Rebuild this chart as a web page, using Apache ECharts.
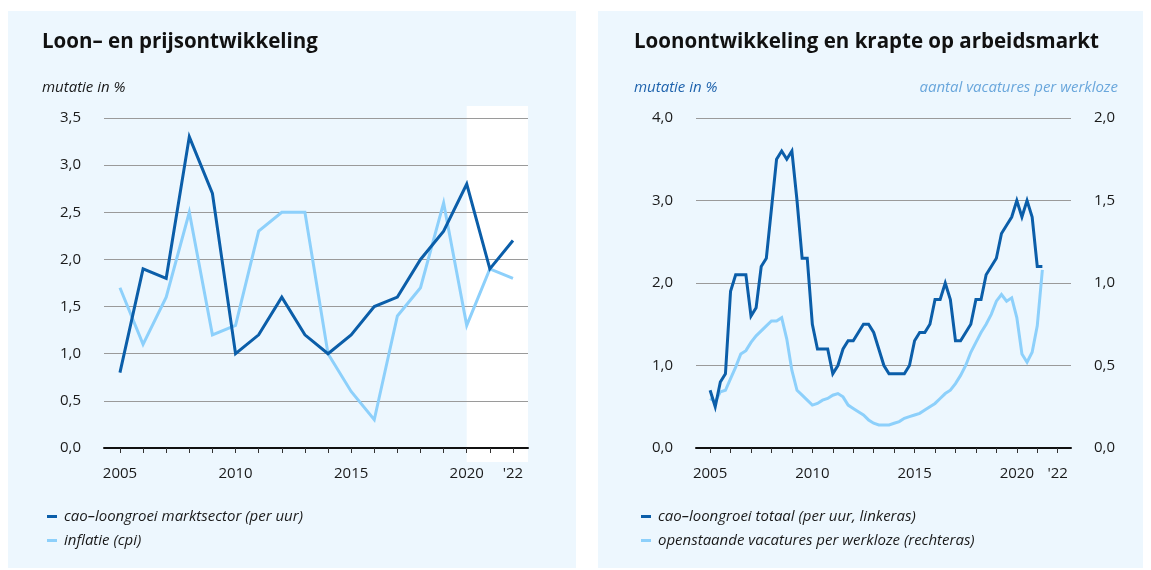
<!DOCTYPE html>
<html>
<head>
<meta charset="utf-8">
<script src="https://cdn.jsdelivr.net/npm/echarts@6.0.0/dist/echarts.min.js"></script>
<style>
  html, body { margin: 0; padding: 0; background: #ffffff; }
  #chart { width: 1151px; height: 570px; }
</style>
</head>
<body>
<div id="chart"></div>
<script>
// ---- Linker grafiek: jaarcijfers ----
const jaren = [2005, 2006, 2007, 2008, 2009, 2010, 2011, 2012, 2013, 2014, 2015, 2016, 2017, 2018, 2019, 2020, 2021, 2022];
const caoMarktsector = [0.8, 1.9, 1.8, 3.3, 2.7, 1.0, 1.2, 1.6, 1.2, 1.0, 1.2, 1.5, 1.6, 2.0, 2.3, 2.8, 1.9, 2.2];
const inflatie = [1.7, 1.1, 1.6, 2.5, 1.2, 1.3, 2.3, 2.5, 2.5, 1.0, 0.6, 0.3, 1.4, 1.7, 2.6, 1.3, 1.9, 1.8];

// Jaarlabels onder de x-as
const jaarLabels = [2005, 2010, 2015, 2020, 2022];
const ramingVanaf = 2020;

// ---- Rechter grafiek: kwartaalcijfers vanaf 2005 K1 ----
const startJaar = 2005;
const caoTotaal = [
  0.7, 0.5, 0.8, 0.9,
  1.9, 2.1, 2.1, 2.1,
  1.6, 1.7, 2.2, 2.3,
  2.9, 3.5, 3.6, 3.5,
  3.6, 3.0, 2.3, 2.3,
  1.5, 1.2, 1.2, 1.2,
  0.9, 1.0, 1.2, 1.3,
  1.3, 1.4, 1.5, 1.5,
  1.4, 1.2, 1.0, 0.9,
  0.9, 0.9, 0.9, 1.0,
  1.3, 1.4, 1.4, 1.5,
  1.8, 1.8, 2.0, 1.8,
  1.3, 1.3, 1.4, 1.5,
  1.8, 1.8, 2.1, 2.2,
  2.3, 2.6, 2.7, 2.8,
  3.0, 2.8, 3.0, 2.8,
  2.2, 2.2
];
const vacaturesPerWerkloze = [
  0.30, 0.28, 0.34, 0.35,
  0.42, 0.49, 0.57, 0.59,
  0.64, 0.68, 0.71, 0.74,
  0.77, 0.77, 0.79, 0.66,
  0.47, 0.35, 0.32, 0.29,
  0.26, 0.27, 0.29, 0.30,
  0.32, 0.33, 0.31, 0.26,
  0.24, 0.22, 0.20, 0.17,
  0.15, 0.14, 0.14, 0.14,
  0.15, 0.16, 0.18, 0.19,
  0.20, 0.21, 0.23, 0.25,
  0.27, 0.30, 0.33, 0.35,
  0.39, 0.44, 0.50, 0.58,
  0.64, 0.70, 0.75, 0.81,
  0.89, 0.93, 0.89, 0.91,
  0.79, 0.57, 0.52, 0.58,
  0.74, 1.08
];

// Tekst
const titelLinks = 'Loon– en prijsontwikkeling';
const titelRechts = 'Loonontwikkeling en krapte op arbeidsmarkt';
const eenheid = 'mutatie in %';
const eenheidRechts = 'aantal vacatures per werkloze';
const naamCaoMarkt = 'cao–loongroei marktsector (per uur)';
const naamInflatie = 'inflatie (cpi)';
const naamCaoTotaal = 'cao–loongroei totaal (per uur, linkeras)';
const naamVacatures = 'openstaande vacatures per werkloze (rechteras)';

// ---- Opmaak ----
const FONT = 'Open Sans';
const DONKER = '#0b5ea9';
const LICHT = '#8dd0fb';
const PANEEL = '#edf7fe';
const TEKST = '#1a1a1a';
const GRID = '#9a9a9a';

const kwartaal = (reeks) => reeks.map((v, i) => [startJaar + i / 4, v]);
const jaarReeks = (reeks) => reeks.map((v, i) => [jaren[i], v]);
const komma = (v) => v.toFixed(1).replace('.', ',');
const jaarTekst = (v) => (v === 2022 ? "'22" : String(v));

function xAs(gridIndex) {
  return {
    type: 'value', gridIndex,
    min: 2004.31, max: 2022.65,
    axisLine: { show: true, onZero: false, lineStyle: { color: '#111', width: 2 } },
    axisTick: { show: true, length: 5, lineStyle: { color: '#333', width: 1 }, customValues: jaren },
    axisLabel: {
      customValues: jaarLabels, formatter: jaarTekst, margin: 18,
      fontFamily: FONT, fontSize: 15, color: TEKST
    },
    splitLine: { show: false }
  };
}

function yAs(gridIndex, max, interval, position) {
  return {
    type: 'value', gridIndex, min: 0, max, interval, position,
    axisLine: { show: false }, axisTick: { show: false },
    axisLabel: { formatter: komma, margin: 23, fontFamily: FONT, fontSize: 15, color: TEKST },
    splitLine: { show: position === 'left', lineStyle: { color: GRID, width: 1 } }
  };
}

function lijn(naam, kleur, xIdx, yIdx, data) {
  return {
    type: 'line', name: naam, xAxisIndex: xIdx, yAxisIndex: yIdx, data,
    showSymbol: false, symbol: 'none', z: 3,
    lineStyle: { color: kleur, width: 3, join: 'miter' },
    itemStyle: { color: kleur },
    emphasis: { disabled: true }
  };
}

function legenda(left, namen) {
  return {
    data: namen, orient: 'vertical', left, top: 507, padding: 0,
    icon: 'rect', itemWidth: 10, itemHeight: 3, itemGap: 5,
    selectedMode: false,
    textStyle: { fontFamily: FONT, fontStyle: 'italic', fontSize: 15, color: TEKST, lineHeight: 19, padding: [0, 0, 0, 2] }
  };
}

const chart = echarts.init(document.getElementById('chart'), null, { renderer: 'canvas' });

const paneelGraphics = [
  { type: 'rect', left: 8, top: 11, shape: { width: 568, height: 557 }, style: { fill: PANEEL }, z: -20, silent: true },
  { type: 'rect', left: 598, top: 11, shape: { width: 545, height: 557 }, style: { fill: PANEEL }, z: -20, silent: true },
  { type: 'text', left: 42, top: 32, style: { text: titelLinks, font: `bold 20.5px "${FONT}"`, fill: '#111' }, z: 5 },
  { type: 'text', left: 634, top: 32, style: { text: titelRechts, font: `bold 20.5px "${FONT}"`, fill: '#111' }, z: 5 },
  { type: 'text', left: 42, top: 80, style: { text: eenheid, font: `italic 15px "${FONT}"`, fill: TEKST }, z: 5 },
  { type: 'text', left: 634, top: 80, style: { text: eenheid, font: `italic 15px "${FONT}"`, fill: '#1f63ad' }, z: 5 },
  { type: 'text', right: 33, top: 80, style: { text: eenheidRechts, font: `italic 15px "${FONT}"`, fill: '#6aa7dc' }, z: 5 }
];

chart.setOption({
  animation: false,
  grid: [
    { left: 104, right: 623, top: 118, bottom: 122 },
    { left: 696, right: 80, top: 118, bottom: 122 }
  ],
  xAxis: [xAs(0), xAs(1)],
  yAxis: [
    yAs(0, 3.5, 0.5, 'left'),
    yAs(1, 4, 1, 'left'),
    yAs(1, 2, 0.5, 'right')
  ],
  legend: [
    legenda(47, [naamCaoMarkt, naamInflatie]),
    legenda(641, [naamCaoTotaal, naamVacatures])
  ],
  series: [
    lijn(naamInflatie, LICHT, 0, 0, jaarReeks(inflatie)),
    lijn(naamCaoMarkt, DONKER, 0, 0, jaarReeks(caoMarktsector)),
    lijn(naamVacatures, LICHT, 1, 2, kwartaal(vacaturesPerWerkloze)),
    lijn(naamCaoTotaal, DONKER, 1, 1, kwartaal(caoTotaal))
  ],
  graphic: paneelGraphics
});

// Witte achtergrond achter de ramingsjaren, uit de asschalen afgeleid
const xStart = chart.convertToPixel({ xAxisIndex: 0 }, ramingVanaf);
const xEind = chart.convertToPixel({ xAxisIndex: 0 }, 2022.65);
const yTop = chart.convertToPixel({ yAxisIndex: 0 }, 3.5);
const yBodem = chart.convertToPixel({ yAxisIndex: 0 }, 0);
chart.setOption({
  graphic: paneelGraphics.concat([{
    type: 'rect', left: xStart, top: yTop - 12,
    shape: { width: xEind - xStart, height: (yBodem - yTop) + 26 },
    style: { fill: '#ffffff' }, z: -10, silent: true
  }])
}, { replaceMerge: ['graphic'] });
</script>
</body>
</html>
